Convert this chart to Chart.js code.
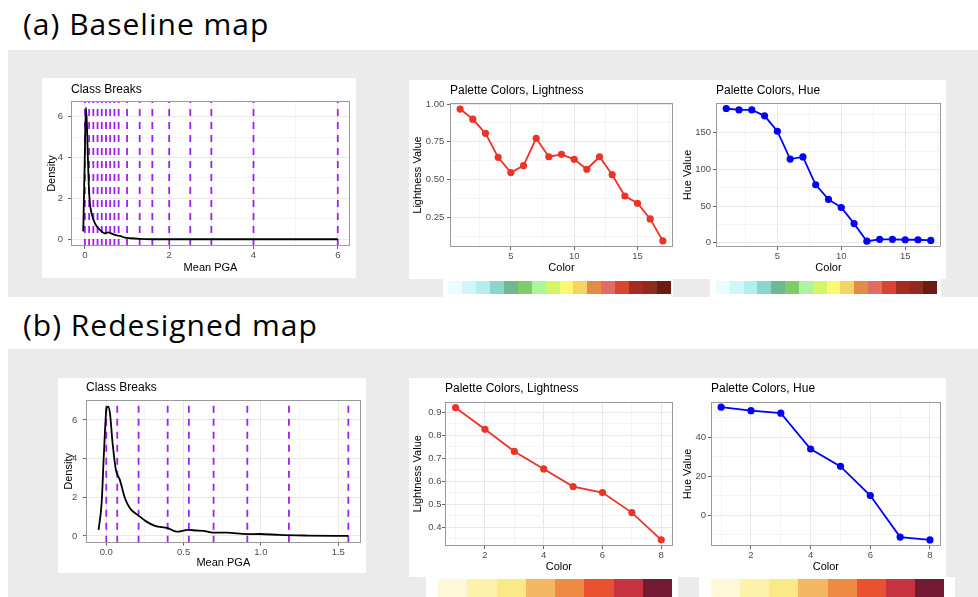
<!DOCTYPE html>
<html>
<head>
<meta charset="utf-8">
<script src="https://cdn.jsdelivr.net/npm/chart.js@4.4.1/dist/chart.umd.min.js"></script>
<style>
  body { margin: 0; width: 978px; height: 597px; position: relative; overflow: hidden; background: #fff; }
  .block { position: absolute; }
  .band { background: #ebebeb; }
  .panel { background: #fff; }
  .heading { position: absolute; left: 23px; font-family: "Open Sans", sans-serif; font-size: 30px; line-height: 30px; letter-spacing: 1px; color: #000; white-space: nowrap; }
  .strip { position: absolute; display: flex; }
  .strip div { flex: 1; height: 100%; }
  canvas { position: absolute; }
</style>
</head>
<body>
<div class="block band" style="left:8px;top:50px;width:970px;height:247px"></div>
<div class="block band" style="left:8px;top:349px;width:970px;height:248px"></div>
<div class="heading" style="top:8.5px">(a) Baseline map</div>
<div class="heading" style="top:310px">(b) Redesigned map</div>
<div class="block panel" style="left:42px;top:78px;width:314px;height:200px"></div>
<div class="block panel" style="left:409px;top:80px;width:537px;height:199px"></div>
<div class="block panel" style="left:58px;top:378px;width:308px;height:195px"></div>
<div class="block panel" style="left:409px;top:378px;width:537px;height:199px"></div>
<div class="block panel" style="left:443px;top:279px;width:230px;height:18px"></div>
<div class="block panel" style="left:710px;top:279px;width:231px;height:18px"></div>
<div class="block panel" style="left:426px;top:577px;width:252px;height:20px"></div>
<div class="block panel" style="left:699px;top:577px;width:256px;height:20px"></div>
<script>
// baseline map
const baselineBreaks = [0, 0.1, 0.2, 0.3, 0.4, 0.5, 0.6, 0.7, 0.8, 1.0, 1.3, 1.6, 2, 2.5, 3, 4, 6];
const baselinePga = [-0.04, -0.008, 0.024, 0.048, 0.071, 0.095, 0.119, 0.158, 0.238, 0.356, 0.475, 0.554, 0.633, 0.713, 0.83, 0.95, 1.07, 1.31, 1.62, 2, 3, 4, 5, 6];
const baselineDensity = [0.38, 3.47, 6.44, 5.6, 3.96, 2.5, 1.76, 1.27, 0.78, 0.46, 0.29, 0.34, 0.28, 0.21, 0.16, 0.08, 0.05, 0.02, 0, 0, 0, 0, 0, 0];
const baselineColor = [1, 2, 3, 4, 5, 6, 7, 8, 9, 10, 11, 12, 13, 14, 15, 16, 17];
const baselineLightness = [0.967, 0.90, 0.806, 0.647, 0.546, 0.592, 0.773, 0.651, 0.667, 0.634, 0.568, 0.651, 0.532, 0.391, 0.343, 0.239, 0.093];
const baselineHue = [183, 181, 181, 173, 152, 114, 117, 79, 59, 48, 26, 2, 4.5, 4.5, 4, 4, 3];
const baselinePalette = ["#ebfcfc", "#d0f7f8", "#b4eded", "#89d6cb", "#71b793", "#80cc68", "#adf49a", "#d3f56a",
  "#fdf96f", "#f4d462", "#e38b48", "#e06c63", "#da4433", "#a62c22", "#922a20", "#6b1b12"];

// redesigned map
const redesignBreaks = [0, 0.071, 0.209, 0.397, 0.534, 0.694, 0.912, 1.181, 1.565];
const redesignPga = [-0.05, -0.03, -0.015, 0.002, 0.013, 0.024, 0.041, 0.0625, 0.088, 0.121, 0.153, 0.209, 0.26, 0.315, 0.397, 0.455, 0.53, 0.584, 0.627, 0.69, 0.78, 0.91, 0.99, 1.12, 1.3, 1.565];
const redesignDensity = [0.31, 1.69, 4.3, 6.6, 6.69, 6.34, 4.8, 3.41, 2.9, 1.95, 1.43, 1.05, 0.74, 0.52, 0.40, 0.22, 0.31, 0.28, 0.26, 0.17, 0.17, 0.09, 0.10, 0.05, 0.02, 0];
const redesignColor = [1, 2, 3, 4, 5, 6, 7, 8];
const redesignLightness = [0.92, 0.826, 0.730, 0.654, 0.577, 0.551, 0.464, 0.346];
const redesignHue = [55.5, 53.7, 52.4, 34, 25.1, 10.1, -11.2, -12.7];
const redesignPalette = ["#fff8d8", "#fdf2a9", "#fbe886", "#f3b661", "#ee8a41", "#ea522f", "#c73240", "#741a34"];

Chart.defaults.font.family = '"Liberation Sans", Arial, sans-serif';
Chart.defaults.color = "#4d4d4d";

const panelBorder = {
    id: "panelBorder",
    afterDatasetsDraw(chart) {
        const a = chart.chartArea;
        const ctx = chart.ctx;
        ctx.save();
        ctx.strokeStyle = "#9a9a9a";
        ctx.lineWidth = 1;
        ctx.strokeRect(Math.round(a.left) + 0.5, Math.round(a.top) + 0.5,
            Math.round(a.right - a.left) - 1, Math.round(a.bottom - a.top) - 1);
        ctx.restore();
    },
};

function scaleOptions(ax, isY, g) {
    const all = ax.major.concat(ax.minor).sort((a, b) => a - b);
    const isMajor = (v) => ax.major.includes(v);
    return {
        type: "linear",
        min: ax.min,
        max: ax.max,
        afterBuildTicks: (scale) => {
            scale.ticks = all.map((v) => ({ value: v }));
        },
        afterFit: (scale) => {
            if (isY) scale.width = g.yWidth;
            else scale.height = g.xHeight;
        },
        ticks: {
            autoSkip: false,
            maxRotation: 0,
            padding: isY ? g.yTickPad : g.xTickPad,
            color: "#4d4d4d",
            font: { size: 9.5 },
            callback: (v) => (isMajor(v) ? ax.fmt(v) : ""),
        },
        grid: {
            color: (c) => (isMajor(c.tick.value) ? "#e8e8e8" : "#f4f4f4"),
            tickLength: 3,
            tickColor: (c) => (isMajor(c.tick.value) ? "#666" : "rgba(0,0,0,0)"),
        },
        border: { display: false },
        title: {
            display: true,
            text: ax.title,
            color: "#000",
            font: { size: 11 },
            padding: isY ? { top: g.yTitlePad, bottom: 0 } : { top: 0, bottom: 0 },
        },
    };
}

function makeChart(box, g, title, xAxis, yAxis, datasets) {
    const canvas = document.createElement("canvas");
    canvas.width = box.width;
    canvas.height = box.height;
    canvas.style.left = box.left + "px";
    canvas.style.top = box.top + "px";
    document.body.appendChild(canvas);
    new Chart(canvas.getContext("2d"), {
        type: "line",
        data: { datasets: datasets },
        options: {
            responsive: false,
            animation: false,
            events: [],
            layout: { padding: g.padding },
            scales: {
                x: scaleOptions(xAxis, false, g),
                y: scaleOptions(yAxis, true, g),
            },
            plugins: {
                legend: { display: false },
                tooltip: { enabled: false },
                title: {
                    display: true,
                    text: title,
                    align: "start",
                    fullSize: false,
                    color: "#000",
                    font: { size: 12, weight: "normal" },
                    padding: { top: 0, bottom: g.titleGap },
                },
            },
        },
        plugins: [panelBorder],
    });
}

function densityDatasets(pga, density, breaks, yAxis) {
    const curve = {
        data: pga.map((x, i) => ({ x: x, y: density[i] })),
        borderColor: "#000",
        borderWidth: 1.8,
        pointRadius: 0,
        cubicInterpolationMode: "monotone",
        order: 0,
    };
    const lines = breaks.map((b) => ({
        data: [{ x: b, y: yAxis.min }, { x: b, y: yAxis.max }],
        borderColor: "#a020f0",
        borderWidth: 1.8,
        borderDash: [7, 6],
        pointRadius: 0,
        order: 1,
    }));
    return [curve].concat(lines);
}

function paletteDataset(xs, ys, color) {
    return [{
        data: xs.map((x, i) => ({ x: x, y: ys[i] })),
        borderColor: color,
        backgroundColor: color,
        borderWidth: 1.8,
        pointRadius: 3.6,
        pointBorderWidth: 0,
        tension: 0,
    }];
}

function makeStrip(box, colors) {
    const strip = document.createElement("div");
    strip.className = "strip";
    strip.style.left = box.left + "px";
    strip.style.top = box.top + "px";
    strip.style.width = box.width + "px";
    strip.style.height = box.height + "px";
    colors.forEach((c) => {
        const cell = document.createElement("div");
        cell.style.background = c;
        strip.appendChild(cell);
    });
    document.body.appendChild(strip);
}

const str = (v) => String(v);

// (a) class breaks
const aDensX = { min: -0.33, max: 6.29, major: [0, 2, 4, 6], minor: [1, 3, 5], fmt: str, title: "Mean PGA" };
const aDensY = { min: -0.33, max: 6.77, major: [0, 2, 4, 6], minor: [1, 3, 5], fmt: str, title: "Density" };
makeChart({ left: 42, top: 78, width: 314, height: 200 },
    { padding: { top: 4.8, right: 6, bottom: 3.7, left: 0 }, titleGap: 3.8, yWidth: 29, xHeight: 28.3, yTitlePad: 3.4, yTickPad: 5, xTickPad: 1 },
    "Class Breaks", aDensX, aDensY, densityDatasets(baselinePga, baselineDensity, baselineBreaks, aDensY));

const aColorX = { min: 0.2, max: 17.8, major: [5, 10, 15], minor: [2.5, 7.5, 12.5, 17.5], fmt: str, title: "Color" };
makeChart({ left: 409, top: 80, width: 271, height: 199 },
    { padding: { top: 3.8, right: 7, bottom: 4.1, left: 0 }, titleGap: 4.8, yWidth: 41, xHeight: 27.9, yTitlePad: 2.7, yTickPad: 2.7, xTickPad: 1 },
    "Palette Colors, Lightness", aColorX,
    { min: 0.053, max: 1.007, major: [0.25, 0.5, 0.75, 1], minor: [0.125, 0.375, 0.625, 0.875], fmt: (v) => v.toFixed(2), title: "Lightness Value" },
    paletteDataset(baselineColor, baselineLightness, "#ec3327"));

makeChart({ left: 680, top: 80, width: 266, height: 199 },
    { padding: { top: 3.8, right: 5, bottom: 4.1, left: 0 }, titleGap: 4.8, yWidth: 36, xHeight: 27.9, yTitlePad: 1.7, yTickPad: 2, xTickPad: 1 },
    "Palette Colors, Hue", aColorX,
    { min: -5.9, max: 190.5, major: [0, 50, 100, 150], minor: [25, 75, 125, 175], fmt: str, title: "Hue Value" },
    paletteDataset(baselineColor, baselineHue, "#0000ff"));

makeStrip({ left: 448, top: 281, width: 223, height: 13 }, baselinePalette);
makeStrip({ left: 716, top: 281, width: 221, height: 13 }, baselinePalette);

// (b) redesigned
const bDensX = { min: -0.131, max: 1.645, major: [0, 0.5, 1, 1.5], minor: [0.25, 0.75, 1.25], fmt: (v) => v.toFixed(1), title: "Mean PGA" };
const bDensY = { min: -0.35, max: 7.03, major: [0, 2, 4, 6], minor: [1, 3, 5], fmt: str, title: "Density" };
makeChart({ left: 58, top: 378, width: 308, height: 195 },
    { padding: { top: 2.8, right: 5.3, bottom: 3.1, left: 0 }, titleGap: 4.8, yWidth: 28, xHeight: 27.2, yTitlePad: 4.7, yTickPad: 5.7, xTickPad: 1.3 },
    "Class Breaks", bDensX, bDensY, densityDatasets(redesignPga, redesignDensity, redesignBreaks, bDensY));

makeChart({ left: 409, top: 378, width: 271, height: 199 },
    { padding: { top: 3.8, right: 7.3, bottom: 3.7, left: 0 }, titleGap: 5.5, yWidth: 36, xHeight: 27.3, yTitlePad: 2.7, yTickPad: 0.5, xTickPad: 0.3 },
    "Palette Colors, Lightness",
    { min: 0.64, max: 8.39, major: [2, 4, 6, 8], minor: [1, 3, 5, 7], fmt: str, title: "Color" },
    { min: 0.319, max: 0.946, major: [0.4, 0.5, 0.6, 0.7, 0.8, 0.9], minor: [0.35, 0.45, 0.55, 0.65, 0.75, 0.85], fmt: (v) => v.toFixed(1), title: "Lightness Value" },
    paletteDataset(redesignColor, redesignLightness, "#ec3327"));

makeChart({ left: 680, top: 378, width: 266, height: 199 },
    { padding: { top: 3.8, right: 5.3, bottom: 3.7, left: 0 }, titleGap: 5.5, yWidth: 31, xHeight: 27.3, yTitlePad: 1.7, yTickPad: 2, xTickPad: 0.3 },
    "Palette Colors, Hue",
    { min: 0.66, max: 8.36, major: [2, 4, 6, 8], minor: [1, 3, 5, 7], fmt: str, title: "Color" },
    { min: -15.8, max: 58.3, major: [0, 20, 40], minor: [-10, 10, 30, 50], fmt: str, title: "Hue Value" },
    paletteDataset(redesignColor, redesignHue, "#0000ff"));

makeStrip({ left: 438, top: 579, width: 234, height: 18 }, redesignPalette);
makeStrip({ left: 711, top: 579, width: 233, height: 18 }, redesignPalette);
</script>
</body>
</html>
